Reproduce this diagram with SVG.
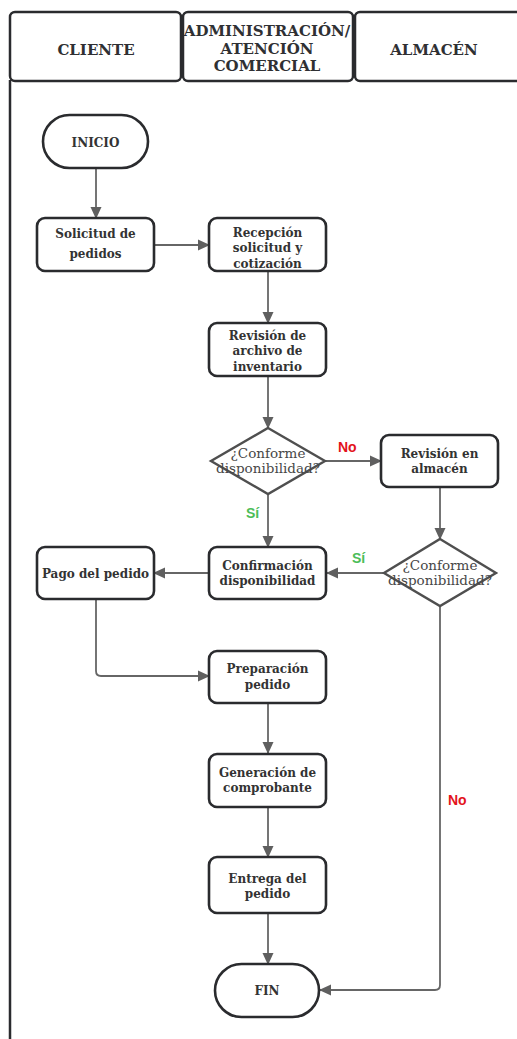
<svg xmlns="http://www.w3.org/2000/svg" width="517" height="1039" viewBox="0 0 517 1039">
<defs>
<marker id="ah" markerWidth="12" markerHeight="12" refX="11" refY="6" orient="auto" markerUnits="userSpaceOnUse">
<path d="M0,0.5 L12,6 L0,11.5 Z" fill="#5f5f5f"/>
</marker>
<style>
.hdr{fill:#fff;stroke:#2a2b2e;stroke-width:2.5}
.ht{font-family:"DejaVu Serif","Liberation Serif",serif;font-weight:bold;font-size:15px;fill:#2f3033;text-anchor:middle}
.box{fill:#fff;stroke:#2a2b2e;stroke-width:2.6}
.dia{fill:#fff;stroke:#4f4f4f;stroke-width:2.4}
.t{font-family:"DejaVu Serif","Liberation Serif",serif;font-weight:bold;font-size:12px;fill:#333;text-anchor:middle}
.dt{font-family:"DejaVu Serif","Liberation Serif",serif;font-size:13.5px;fill:#474747;text-anchor:middle}
.c{fill:none;stroke:#666;stroke-width:1.8;marker-end:url(#ah)}
.no{font-family:"Liberation Sans",Arial,sans-serif;font-weight:bold;font-size:14px;fill:#e3131b}
.si{font-family:"Liberation Sans",Arial,sans-serif;font-weight:bold;font-size:14px;fill:#4cbd58}
</style>
</defs>
<rect width="517" height="1039" fill="#fff"/>
<g id="lanes">
<line x1="10" y1="80" x2="10" y2="1039" stroke="#2a2b2e" stroke-width="2.5"/>
<rect class="hdr" x="10" y="12" width="171" height="69" rx="5"/>
<rect class="hdr" x="183" y="12" width="170" height="69" rx="5"/>
<rect class="hdr" x="355" y="12" width="175" height="69" rx="5"/>
<text class="ht" x="96" y="55">CLIENTE</text>
<text class="ht" x="267" y="36">ADMINISTRACIÓN/</text>
<text class="ht" x="267" y="53.5">ATENCIÓN</text>
<text class="ht" x="267" y="71">COMERCIAL</text>
<text class="ht" x="434" y="55">ALMACÉN</text>
</g>
<g id="connectors">
<path class="c" d="M96 168 V218"/>
<path class="c" d="M154 245 H209"/>
<path class="c" d="M268 272 V323"/>
<path class="c" d="M268 376 V428"/>
<path class="c" d="M325 461 H381"/>
<path class="c" d="M268 494 V547"/>
<path class="c" d="M440 487 V539"/>
<path class="c" d="M384 573 H327"/>
<path class="c" d="M209 573 H154"/>
<path class="c" d="M96 599 V671 Q96 676 101 676 H209"/>
<path class="c" d="M268 703 V753"/>
<path class="c" d="M268 807 V857"/>
<path class="c" d="M268 913 V964"/>
<path class="c" d="M440 606 V985 Q440 990 435 990 H320"/>
<text class="no" x="338" y="452">No</text>
<text class="si" x="246" y="518">Sí</text>
<text class="si" x="352" y="563">Sí</text>
<text class="no" x="448" y="805">No</text>
</g>
<g id="inicio">
<rect class="box" x="43" y="115" width="105" height="53" rx="26.5"/>
<text class="t" x="95.5" y="146.5">INICIO</text>
</g>
<g id="solicitud">
<rect class="box" x="37" y="218" width="117" height="53" rx="8"/>
<text class="t" x="95.5" y="237.5">Solicitud de</text>
<text class="t" x="95.5" y="257.5">pedidos</text>
</g>
<g id="recepcion">
<rect class="box" x="209" y="218" width="117" height="53" rx="8"/>
<text class="t" x="267.5" y="236.5">Recepción</text>
<text class="t" x="267.5" y="252">solicitud y</text>
<text class="t" x="267.5" y="267.5">cotización</text>
</g>
<g id="revision-archivo">
<rect class="box" x="209" y="323" width="117" height="53" rx="8"/>
<text class="t" x="267.5" y="339.5">Revisión de</text>
<text class="t" x="267.5" y="355">archivo de</text>
<text class="t" x="267.5" y="370.5">inventario</text>
</g>
<g id="decision1">
<polygon class="dia" points="268,428 325,461 268,494 211,461"/>
<text class="dt" x="268" y="458">¿Conforme</text>
<text class="dt" x="268" y="473">disponibilidad?</text>
</g>
<g id="revision-almacen">
<rect class="box" x="381" y="435" width="117" height="52" rx="8"/>
<text class="t" x="439.5" y="457.5">Revisión en</text>
<text class="t" x="439.5" y="472.5">almacén</text>
</g>
<g id="decision2">
<polygon class="dia" points="440,539 496,573 440,606 384,573"/>
<text class="dt" x="440" y="570">¿Conforme</text>
<text class="dt" x="440" y="585">disponibilidad?</text>
</g>
<g id="confirmacion">
<rect class="box" x="209" y="547" width="117" height="52" rx="8"/>
<text class="t" x="267.5" y="569.5">Confirmación</text>
<text class="t" x="267.5" y="584.5">disponibilidad</text>
</g>
<g id="pago">
<rect class="box" x="37" y="547" width="117" height="52" rx="8"/>
<text class="t" x="95.5" y="577.5">Pago del pedido</text>
</g>
<g id="preparacion">
<rect class="box" x="209" y="651" width="117" height="52" rx="8"/>
<text class="t" x="267.5" y="672.5">Preparación</text>
<text class="t" x="267.5" y="688.5">pedido</text>
</g>
<g id="generacion">
<rect class="box" x="209" y="754" width="117" height="53" rx="8"/>
<text class="t" x="267.5" y="776.5">Generación de</text>
<text class="t" x="267.5" y="791.5">comprobante</text>
</g>
<g id="entrega">
<rect class="box" x="209" y="857" width="117" height="56" rx="8"/>
<text class="t" x="267.5" y="882.5">Entrega del</text>
<text class="t" x="267.5" y="897.5">pedido</text>
</g>
<g id="fin">
<rect class="box" x="215" y="964" width="104" height="53" rx="26.5"/>
<text class="t" x="267" y="994.5">FIN</text>
</g>
</svg>
